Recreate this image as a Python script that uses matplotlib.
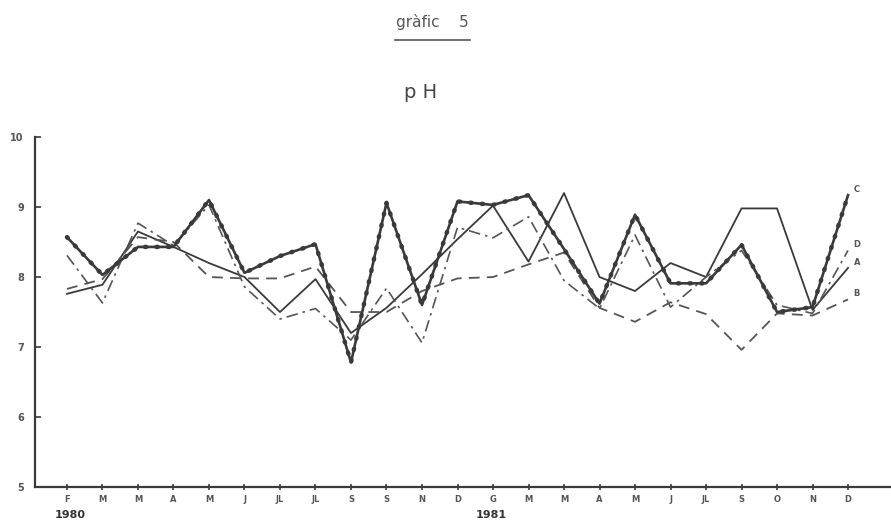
import matplotlib
matplotlib.use('Agg')
import matplotlib.pyplot as plt
import numpy as np

# pH values per sampling month, Feb 1980 - Dec 1981
months = ['F', 'M', 'M', 'A', 'M', 'J', 'JL', 'JL', 'S', 'S', 'N', 'D',
          'G', 'M', 'M', 'A', 'M', 'J', 'JL', 'S', 'O', 'N', 'D']
ph_A = [7.76, 7.89, 8.65, 8.43, 8.2, 8.0, 7.5, 7.97, 7.2, 7.56, 8.04, 8.54,
        9.02, 8.22, 9.2, 8.0, 7.8, 8.2, 8.0, 8.98, 8.98, 7.53, 8.13]
ph_B = [7.83, 7.97, 8.57, 8.5, 8.0, 7.98, 7.98, 8.15, 7.5, 7.5, 7.8, 7.98,
        8.0, 8.18, 8.35, 7.56, 7.36, 7.64, 7.47, 6.96, 7.48, 7.45, 7.68]
ph_C = [8.57, 8.03, 8.43, 8.43, 9.1, 8.06, 8.3, 8.47, 6.78, 9.06, 7.6, 9.08,
        9.03, 9.17, 8.4, 7.62, 8.89, 7.91, 7.91, 8.46, 7.5, 7.57, 9.17]
ph_D = [8.31, 7.63, 8.77, 8.45, 9.03, 7.86, 7.4, 7.55, 7.1, 7.84, 7.06, 8.71,
        8.56, 8.86, 7.95, 7.55, 8.6, 7.57, 8.0, 8.38, 7.6, 7.48, 8.38]
years = ['1980', '1981']
year_pos = [0, 12]
yticks = [5, 6, 7, 8, 9, 10]

ink = '#3a3a3a'
x = np.arange(len(months))

fig = plt.figure(figsize=(8.91, 5.22), dpi=100)
ax = fig.add_axes([0.0393, 0.067, 0.9607, 0.6705])

ax.plot(x, ph_A, color=ink, lw=1.3)
ax.plot(x, ph_B, color='#555555', lw=1.3, linestyle=(0, (6, 4)))
ax.plot(x, ph_D, color='#555555', lw=1.2, linestyle=(0, (7, 3, 1.5, 3)))
# C: thick line with beads along it
ax.plot(x, ph_C, color=ink, lw=1.9)
beads, = ax.plot(x, ph_C, color=ink, lw=3.2, linestyle=(0, (0.3, 2.3)))
beads.set_dash_capstyle('round')

for lab, ser in [('C', ph_C), ('D', ph_D), ('A', ph_A), ('B', ph_B)]:
    ax.annotate(lab, xy=(x[-1], ser[-1]), xytext=(4, 1), textcoords='offset points',
                fontsize=6, color='#555555', fontweight='bold', va='bottom')

ax.set_xlim(-0.9, 23.21)
ax.set_ylim(5, 10)
for s in ['top', 'right']:
    ax.spines[s].set_visible(False)
for s in ['left', 'bottom']:
    ax.spines[s].set_color(ink)
    ax.spines[s].set_linewidth(1.6)

ax.set_xticks(x)
ax.set_xticklabels(months, fontsize=6, color='#555555', fontweight='bold')
ax.set_yticks(yticks)
ax.set_yticklabels([str(v) for v in yticks], fontsize=7, color='#555555', fontweight='bold')
ax.tick_params(axis='x', direction='inout', length=5, width=1.2, color=ink, pad=3)
ax.tick_params(axis='y', direction='in', length=4, width=1.2, color=ink, pad=8)

for yr, p, dx in zip(years, year_pos, [2, -1]):
    ax.annotate(yr, xy=(p, 5), xytext=(dx, -20), textcoords='offset points',
                fontsize=8, color='#333333', fontweight='bold',
                ha='center', va='center')

fig.text(0.485, 0.958, 'gr\u00e0fic    5', fontsize=11, color='#555555',
         ha='center', va='center')
fig.add_artist(plt.Line2D([0.443, 0.527], [0.923, 0.923], color='#555555', lw=1.2))
fig.text(0.472, 0.823, 'p H', fontsize=14, color='#444444', ha='center', va='center')

fig.savefig('out.png', dpi=100)
